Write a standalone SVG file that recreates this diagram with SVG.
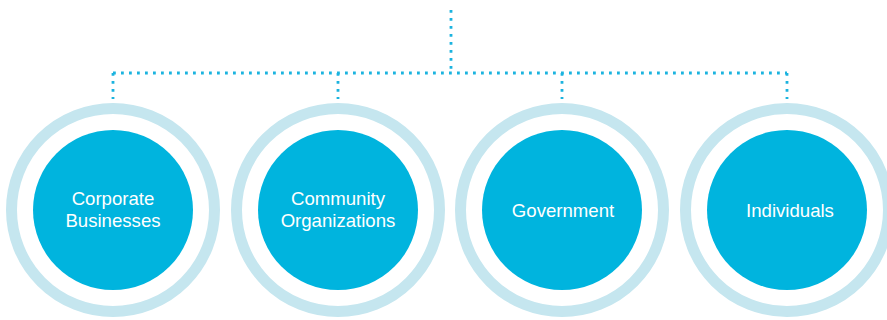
<svg xmlns="http://www.w3.org/2000/svg" width="887" height="320" viewBox="0 0 887 320">
<style>
.ring{fill:none;stroke:#C5E6EF;stroke-width:11}
.core{fill:#00B4DE}
.lbl{font-family:"Liberation Sans",Arial,sans-serif;font-size:18.6px;fill:#fff;text-anchor:middle}
.dot{fill:none;stroke:#1BB3DF;stroke-width:2.8;stroke-dasharray:2.8 5.2}
</style>
<rect width="887" height="320" fill="#fff"/>
<g id="connectors">
<path class="dot" d="M451 10 V73"/>
<path class="dot" d="M113 73 H787"/>
<path class="dot" d="M113 73 V99"/>
<path class="dot" d="M338 73 V99"/>
<path class="dot" d="M562 73 V99"/>
<path class="dot" d="M787 73 V99"/>
</g>
<g id="corporate">
<circle class="ring" cx="113" cy="210" r="101.5"/>
<circle class="core" cx="113" cy="210" r="80"/>
<text class="lbl" x="113" y="205">Corporate</text>
<text class="lbl" x="113" y="227">Businesses</text>
</g>
<g id="community">
<circle class="ring" cx="338" cy="210" r="101.5"/>
<circle class="core" cx="338" cy="210" r="80"/>
<text class="lbl" x="338" y="205">Community</text>
<text class="lbl" x="338" y="227">Organizations</text>
</g>
<g id="government">
<circle class="ring" cx="562" cy="210" r="101.5"/>
<circle class="core" cx="562" cy="210" r="80"/>
<text class="lbl" x="563" y="217">Government</text>
</g>
<g id="individuals">
<circle class="ring" cx="787" cy="210" r="101.5"/>
<circle class="core" cx="787" cy="210" r="80"/>
<text class="lbl" x="790" y="217">Individuals</text>
</g>
</svg>
